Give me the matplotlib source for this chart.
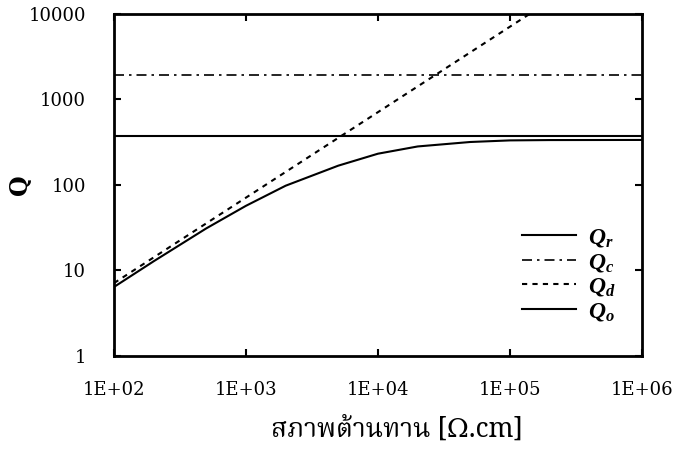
import matplotlib
matplotlib.use('Agg')
import matplotlib.pyplot as plt

plt.rcParams['mathtext.fontset'] = 'custom'
plt.rcParams['mathtext.it'] = 'Liberation Serif:bold:italic'
plt.rcParams['mathtext.rm'] = 'Liberation Serif:bold'

# resistivity [ohm.cm]
rho_line = [1e2, 1e6]
q_r = [374, 374]
q_c = [1950, 1950]
q_d = [7.1, 71000]

rho_o = [1e2, 2e2, 5e2, 1e3, 2e3, 5e3, 1e4, 2e4, 5e4, 1e5, 2e5, 1e6]
q_o = [6.4, 12.8, 31, 57, 98, 168, 232, 282, 318, 332, 335, 336]

x_ticks = [1e2, 1e3, 1e4, 1e5, 1e6]
x_labels = ['1E+02', '1E+03', '1E+04', '1E+05', '1E+06']
y_ticks = [1, 10, 100, 1000, 10000]
y_labels = ['1', '10', '100', '1000', '10000']

fig = plt.figure(figsize=(6.74, 4.5), dpi=100)
ax = fig.add_axes([0.169, 0.209, 0.7835, 0.760])

ax.plot(rho_line, q_r, color='black', lw=1.5, label=r'$Q_r$')
ax.plot(rho_line, q_c, color='black', lw=1.2, linestyle=(0, (6, 3, 1.5, 3)), label=r'$Q_c$')
ax.plot(rho_line, q_d, color='black', lw=1.5, linestyle=(0, (2.5, 2.5)), label=r'$Q_d$')
ax.plot(rho_o, q_o, color='black', lw=1.5, label=r'$Q_o$')

ax.set_xscale('log')
ax.set_yscale('log')
ax.set_xlim(1e2, 1e6)
ax.set_ylim(1, 10000)
ax.set_xticks(x_ticks)
ax.set_xticklabels(x_labels)
ax.set_yticks(y_ticks)
ax.set_yticklabels(y_labels)
ax.minorticks_off()
ax.tick_params(direction='in', top=True, right=True, length=5, width=1.5)
ax.tick_params(axis='x', pad=18)
ax.tick_params(axis='y', pad=20)
for lab in ax.get_xticklabels() + ax.get_yticklabels():
    lab.set_family('DejaVu Serif')
    lab.set_fontsize(13)
for s in ax.spines.values():
    s.set_linewidth(2)

ax.set_ylabel('Q', family='DejaVu Serif', fontsize=17, fontweight='bold')
ax.yaxis.set_label_coords(-0.155, 0.5)
ax.set_xlabel('สภาพต้านทาน [Ω.cm]', fontsize=19,
              family=['Noto Serif Thai', 'Noto Sans Thai', 'DejaVu Serif'])
ax.xaxis.set_label_coords(0.536, -0.175)

ax.legend(loc='lower right', bbox_to_anchor=(0.99, 0.035), frameon=False, fontsize=17,
          handlelength=2.3, labelspacing=0.0, handletextpad=0.5)

fig.savefig('out.png', dpi=100)
